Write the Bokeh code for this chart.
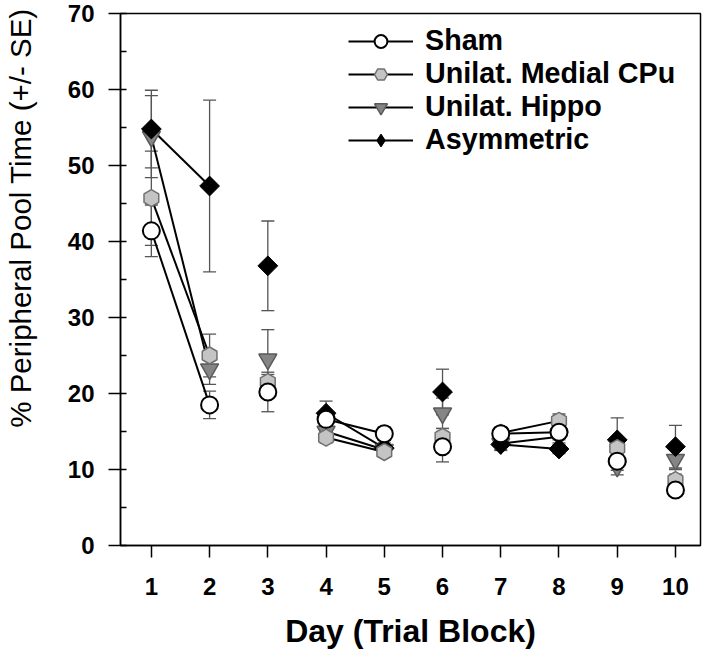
import numpy as np
from bokeh.plotting import figure
from bokeh.models import (Range1d, FixedTicker, SingleIntervalTicker, ColumnDataSource,
                          Whisker, TeeHead, Legend, LegendItem)
from bokeh.embed import file_html
from bokeh.resources import INLINE

# ---------------- data ----------------
days = [1, 2, 3, 4, 5, 6, 7, 8, 9, 10]
x_tick_labels = ["1", "2", "3", "4", "5", "6", "7", "8", "9", "10"]
y_ticks = [0, 10, 20, 30, 40, 50, 60, 70]

sham = [41.4, 18.5, 20.2, 16.6, 14.7, 13.0, 14.7, 14.9, 11.1, 7.3]
sham_se = [3.4, 1.8, 2.6, 1.0, 0.9, 2.0, 0.8, 1.0, 1.2, 0.5]

cpu = [45.7, 25.0, 21.5, 14.2, 12.3, 14.3, 14.8, 16.4, 12.8, 8.6]
cpu_se = [6.2, 2.8, 1.0, 0.7, 0.6, 1.1, 0.8, 0.9, 0.9, 0.8]

hippo = [53.8, 23.2, 24.5, 15.0, 12.6, 17.4, 13.4, 14.3, 10.4, 11.3]
hippo_se = [5.4, 2.0, 3.9, 0.8, 0.7, 2.0, 0.8, 0.8, 1.1, 1.3]

asym = [54.8, 47.3, 36.8, 17.4, 12.8, 20.2, 13.3, 12.7, 13.9, 13.0]
asym_se = [5.1, 11.3, 5.9, 1.6, 0.7, 3.0, 0.8, 0.6, 2.9, 2.8]

# days joined by a line within each series
linked_days = [(1, 2), (4, 5), (7, 8)]

names = ["Sham", "Unilat. Medial CPu", "Unilat. Hippo", "Asymmetric"]
x_title = "Day (Trial Block)"
y_title = "% Peripheral Pool Time (+/- SE)"

FONT = "Liberation Sans"

# ---------------- figure ----------------
p = figure(width=704, height=655,
           x_range=Range1d(0.47, 10.43), y_range=Range1d(0, 70),
           output_backend="svg", toolbar_location=None,
           min_border_left=119, min_border_right=4,
           min_border_top=13, min_border_bottom=110)
p.xgrid.visible = False
p.ygrid.visible = False
p.outline_line_color = "black"
p.outline_line_width = 1.5
p.background_fill_color = "white"
p.border_fill_color = "white"

xa = p.xaxis[0]
xa.ticker = FixedTicker(ticks=days)
xa.major_label_overrides = {d: s for d, s in zip(days, x_tick_labels)}
xa.major_tick_out = 12
xa.major_tick_in = 0
xa.minor_tick_out = 0
xa.minor_tick_in = 0
xa.axis_line_width = 1.5
xa.major_tick_line_width = 1.5
xa.major_label_text_font = FONT
xa.major_label_text_font_style = "bold"
xa.major_label_text_font_size = "24px"
xa.major_label_text_color = "black"
xa.major_label_standoff = 20
xa.axis_label = x_title
xa.axis_label_text_font = FONT
xa.axis_label_text_font_style = "bold"
xa.axis_label_text_font_size = "32px"
xa.axis_label_text_color = "black"
xa.axis_label_standoff = 15

ya = p.yaxis[0]
ya.ticker = SingleIntervalTicker(interval=10, num_minor_ticks=2)
ya.major_tick_out = 12
ya.major_tick_in = 0
ya.minor_tick_in = 6
ya.minor_tick_out = 0
ya.axis_line_width = 1.5
ya.major_tick_line_width = 1.5
ya.minor_tick_line_width = 1.5
ya.major_label_text_font = FONT
ya.major_label_text_font_style = "bold"
ya.major_label_text_font_size = "24px"
ya.major_label_text_color = "black"
ya.major_label_standoff = 14
# leading no-break spaces shift the centred title toward the top, as in the original
ya.axis_label = "\u00a0" * 15 + y_title
ya.axis_label_text_font = FONT
ya.axis_label_text_font_style = "normal"
ya.axis_label_text_font_size = "29.5px"
ya.axis_label_text_color = "black"
ya.axis_label_standoff = 28

# ---------------- series ----------------
styles = {
    "Sham": dict(marker="circle", size=17, fill_color="white", line_color="black", line_width=2, angle=0),
    "Unilat. Medial CPu": dict(marker="hex", size=17, fill_color="#c4c4c4", line_color="#707070", line_width=1.5, angle=np.pi / 2),
    "Unilat. Hippo": dict(marker="inverted_triangle", size=18, fill_color="#858585", line_color="#5a5a5a", line_width=1.5, angle=0),
    "Asymmetric": dict(marker="square", size=14, fill_color="black", line_color="black", line_width=1, angle=np.pi / 4),
}
values = {"Sham": (sham, sham_se), "Unilat. Medial CPu": (cpu, cpu_se),
          "Unilat. Hippo": (hippo, hippo_se), "Asymmetric": (asym, asym_se)}

sources = {}
for n in names:
    v, se = values[n]
    sources[n] = ColumnDataSource(dict(
        x=days, y=v,
        upper=[a + b for a, b in zip(v, se)],
        lower=[a - b for a, b in zip(v, se)]))

# error bars (below everything)
for n in names:
    w = Whisker(base="x", upper="upper", lower="lower", source=sources[n],
                line_color="#555555", line_width=1.3,
                upper_head=TeeHead(size=13, line_color="#555555", line_width=1.3),
                lower_head=TeeHead(size=13, line_color="#555555", line_width=1.3),
                level="underlay")
    p.add_layout(w)

# connecting lines
line_r = {}
for n in names:
    v, _ = values[n]
    xs = [[a, b] for a, b in linked_days]
    ys = [[v[days.index(a)], v[days.index(b)]] for a, b in linked_days]
    line_r[n] = p.multi_line(xs=xs, ys=ys, line_color="black", line_width=2)

# markers (draw order: hippo, asym, cpu, sham)
mark_r = {}
for n in ["Unilat. Hippo", "Asymmetric", "Unilat. Medial CPu", "Sham"]:
    st = styles[n]
    mark_r[n] = p.scatter(x="x", y="y", source=sources[n], marker=st["marker"], size=st["size"],
                          fill_color=st["fill_color"], line_color=st["line_color"],
                          line_width=st["line_width"], angle=st["angle"])

# legend glyph for the diamond series (the legend ignores marker rotation)
asym_key = p.scatter(x="x", y="y", source=sources["Asymmetric"], marker="diamond", size=0,
                     fill_color="black", line_color="black")
legend_marks = dict(mark_r)
legend_marks["Asymmetric"] = asym_key

legend = Legend(items=[LegendItem(label=n, renderers=[line_r[n], legend_marks[n]]) for n in names],
                location=(228, 389), glyph_width=65, glyph_height=32, spacing=0,
                padding=0, margin=0, label_standoff=12, label_height=32,
                border_line_color=None, background_fill_alpha=0,
                label_text_font=FONT, label_text_font_size="28.7px",
                label_text_font_style="bold", label_text_color="black")
p.add_layout(legend)

open("out.html", "w").write(file_html(p, INLINE))
